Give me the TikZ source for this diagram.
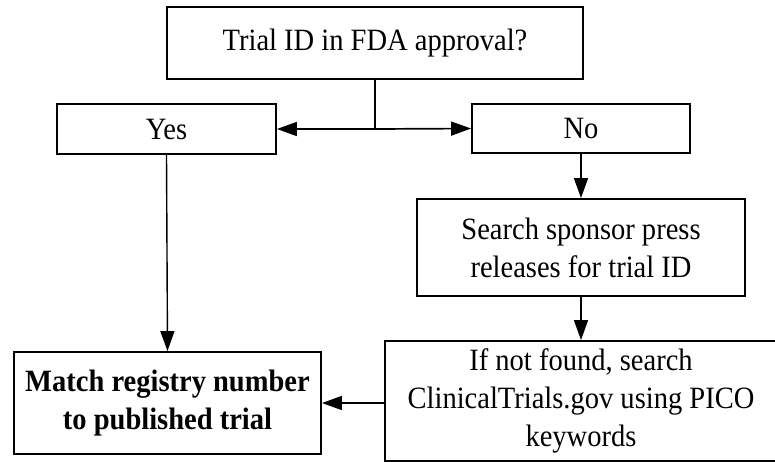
\documentclass[tikz,border=0pt]{standalone}
\usepackage{fontspec}
\setmainfont{Liberation Serif}[FakeStretch=0.92]
\usetikzlibrary{arrows.meta}
\begin{document}
\begin{tikzpicture}[x=1pt,y=-1pt,
  box/.style={draw, line width=1.9pt, inner sep=0pt, align=center, font=\fontsize{31}{38}\selectfont},
  arr/.style={line width=1.7pt, -{Triangle[length=20pt,width=14pt]}},
  ln/.style={line width=1.7pt}]
\useasboundingbox (0,0) rectangle (775,461);
\node[box, minimum width=416pt, minimum height=72pt] (q) at (375,43) {Trial ID in FDA approval?};
\node[box, minimum width=219pt, minimum height=50pt] (yes) at (166.5,129) {Yes};
\node[box, minimum width=218pt, minimum height=49pt] (no) at (581,128.5) {No};
\node[box, minimum width=328pt, minimum height=97pt] (search) at (581,247.5) {Search sponsor press\\releases for trial ID};
\node[box, minimum width=392pt, minimum height=120pt] (pico) at (581,401) {If not found, search\\ClinicalTrials.gov using PICO\\keywords};
\node[box, minimum width=307pt, minimum height=102pt, font=\fontsize{31}{38}\selectfont\bfseries] (match) at (167.5,403) {Match registry number\\to published trial};
\coordinate (j) at (q.south |- yes.east);
\draw[ln] (q.south) -- (j);
\draw[arr] (j) -- (yes.east);
\draw[arr] (j) -- (no.west);
\draw[arr] (no.south) -- (search.north);
\draw[arr] (search.south) -- (pico.north);
\draw[arr, line width=1.4pt] (yes.south) -- (match.north);
\draw[arr] (pico.west |- match.east) -- (match.east);
\end{tikzpicture}
\end{document}
